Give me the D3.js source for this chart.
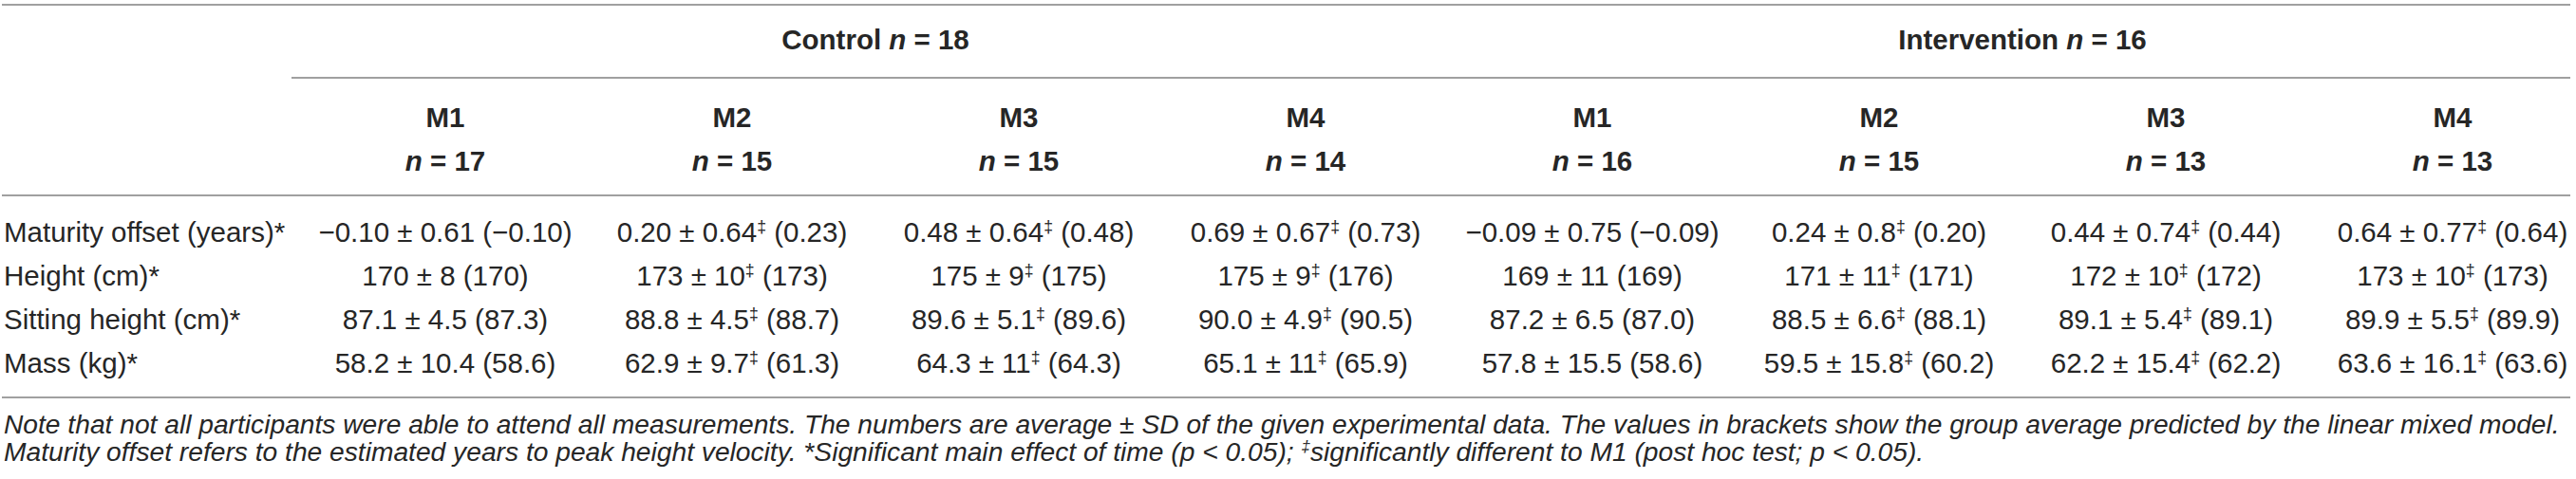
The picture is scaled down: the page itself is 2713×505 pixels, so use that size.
<!DOCTYPE html>
<html>
<head>
<meta charset="utf-8">
<script src="https://cdn.jsdelivr.net/npm/d3@7/dist/d3.min.js"></script>
<style>
  html, body { margin: 0; padding: 0; background: #fff; }
  svg { display: block; }
  text { font-family: "Liberation Sans", Arial, Helvetica, sans-serif; fill: #262626; }
</style>
</head>
<body>
<svg id="chart"></svg>
<script>
// ---------- data ----------
const groups = ["Control", "Intervention"];
const groupN = [18, 16];
const timepoints = ["M1", "M2", "M3", "M4", "M1", "M2", "M3", "M4"];
const columnGroup = [0, 0, 0, 0, 1, 1, 1, 1];
const columnN = [17, 15, 15, 14, 16, 15, 13, 13];
const rowLabels = ["Maturity offset (years)*", "Height (cm)*", "Sitting height (cm)*", "Mass (kg)*"];

const maturityMean = ["\u22120.10", "0.20", "0.48", "0.69", "\u22120.09", "0.24", "0.44", "0.64"];
const maturitySD   = ["0.61", "0.64", "0.64", "0.67", "0.75", "0.8", "0.74", "0.77"];
const maturityPred = ["\u22120.10", "0.23", "0.48", "0.73", "\u22120.09", "0.20", "0.44", "0.64"];

const heightMean = ["170", "173", "175", "175", "169", "171", "172", "173"];
const heightSD   = ["8", "10", "9", "9", "11", "11", "10", "10"];
const heightPred = ["170", "173", "175", "176", "169", "171", "172", "173"];

const sittingMean = ["87.1", "88.8", "89.6", "90.0", "87.2", "88.5", "89.1", "89.9"];
const sittingSD   = ["4.5", "4.5", "5.1", "4.9", "6.5", "6.6", "5.4", "5.5"];
const sittingPred = ["87.3", "88.7", "89.6", "90.5", "87.0", "88.1", "89.1", "89.9"];

const massMean = ["58.2", "62.9", "64.3", "65.1", "57.8", "59.5", "62.2", "63.6"];
const massSD   = ["10.4", "9.7", "11", "11", "15.5", "15.8", "15.4", "16.1"];
const massPred = ["58.6", "61.3", "64.3", "65.9", "58.6", "60.2", "62.2", "63.6"];

// significantly different to M1 (‡)
const sigM1 = [0, 1, 1, 1, 0, 1, 1, 1];

const noteLine1 = [
  {t: "Note that not all participants were able to attend all measurements. The numbers are average \u00b1 SD of the given experimental data. The values in brackets show the group average predicted by the linear mixed model."}
];
const noteLine2 = [
  {t: "Maturity offset refers to the estimated years to peak height velocity. *Significant main effect of time ("},
  {t: "p"}, {t: " < 0.05); "}, {t: "\u2021", sup: true},
  {t: "significantly different to M1 (post hoc test; "}, {t: "p"}, {t: " < 0.05)."}
];

const rowData = [
  {mean: maturityMean, sd: maturitySD, pred: maturityPred, sig: sigM1},
  {mean: heightMean, sd: heightSD, pred: heightPred, sig: sigM1},
  {mean: sittingMean, sd: sittingSD, pred: sittingPred, sig: sigM1},
  {mean: massMean, sd: massSD, pred: massPred, sig: sigM1}
];

// ---------- layout ----------
const W = 2713, H = 505;
const FS = 29.5;       // body font size
const NFS = 28.2;      // note font size
const SUP = 0.6;       // superscript scale
const svg = d3.select("#chart").attr("width", W).attr("height", H);

const x = d3.scaleBand().domain(d3.range(timepoints.length)).range([318, 2734]);
const cx = i => x(i) + x.bandwidth() / 2;
const yRow = d3.scalePoint().domain(rowLabels).range([245, 383]);

const lineColor = "#a0a0a0";
const hline = (x1, x2, y) => svg.append("line")
  .attr("x1", x1).attr("x2", x2).attr("y1", y).attr("y2", y)
  .attr("stroke", lineColor).attr("stroke-width", 2);

hline(2, 2707, 5);
hline(307, 2707, 82);
hline(2, 2707, 206);
hline(2, 2707, 419);

// group headers
groups.forEach((g, gi) => {
  const cols = d3.range(timepoints.length).filter(i => columnGroup[i] === gi);
  const center = (cx(d3.min(cols)) + cx(d3.max(cols))) / 2;
  const t = svg.append("text").attr("x", center).attr("y", 42).attr("dy", "0.35em")
    .attr("text-anchor", "middle").attr("font-size", FS).attr("font-weight", "bold");
  t.append("tspan").text(g + " ");
  t.append("tspan").attr("font-style", "italic").text("n");
  t.append("tspan").text(" = " + groupN[gi]);
});

// timepoint headers
svg.selectAll("text.tp").data(timepoints).join("text")
  .attr("class", "tp")
  .attr("x", (d, i) => cx(i)).attr("y", 124).attr("dy", "0.35em")
  .attr("text-anchor", "middle").attr("font-size", FS).attr("font-weight", "bold")
  .text(d => d);

svg.selectAll("text.nn").data(columnN).join("text")
  .attr("class", "nn")
  .attr("x", (d, i) => cx(i)).attr("y", 170).attr("dy", "0.35em")
  .attr("text-anchor", "middle").attr("font-size", FS).attr("font-weight", "bold")
  .each(function(d) {
    const t = d3.select(this);
    t.append("tspan").attr("font-style", "italic").text("n");
    t.append("tspan").text(" = " + d);
  });

// row labels
svg.selectAll("text.rl").data(rowLabels).join("text")
  .attr("class", "rl")
  .attr("x", 4).attr("y", d => yRow(d)).attr("dy", "0.35em")
  .attr("font-size", FS)
  .text(d => d);

// cells
const supShift = FS * 0.36;
rowData.forEach((r, ri) => {
  const yy = yRow(rowLabels[ri]);
  r.mean.forEach((m, ci) => {
    const t = svg.append("text").attr("x", cx(ci)).attr("y", yy).attr("dy", "0.35em")
      .attr("text-anchor", "middle").attr("font-size", FS);
    t.append("tspan").text(m + " \u00b1 " + r.sd[ci]);
    if (r.sig[ci]) {
      t.append("tspan").attr("font-size", FS * SUP).attr("dy", -supShift).text("\u2021");
      t.append("tspan").attr("dy", supShift).text(" (" + r.pred[ci] + ")");
    } else {
      t.append("tspan").text(" (" + r.pred[ci] + ")");
    }
  });
});

// notes
const nShift = NFS * 0.36;
[[noteLine1, 447], [noteLine2, 476]].forEach(([segs, yy]) => {
  const t = svg.append("text").attr("x", 4).attr("y", yy).attr("dy", "0.35em")
    .attr("font-size", NFS).attr("font-style", "italic");
  segs.forEach((seg, i) => {
    const s = t.append("tspan").text(seg.t);
    if (seg.sup) s.attr("font-size", NFS * SUP).attr("dy", -nShift);
    else if (i > 0 && segs[i - 1].sup) s.attr("dy", nShift);
  });
});
</script>
</body>
</html>
